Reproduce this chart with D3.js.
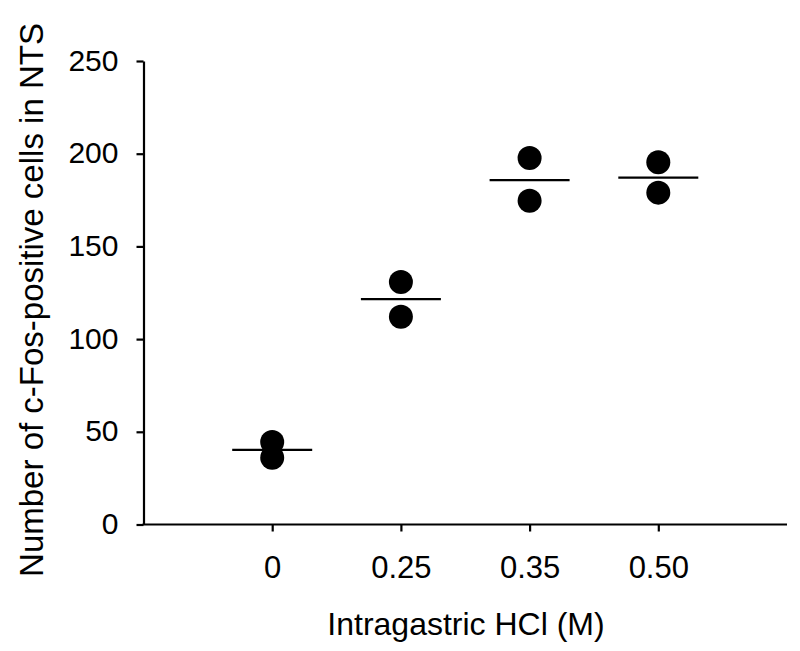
<!DOCTYPE html>
<html>
<head>
<meta charset="utf-8">
<script src="https://cdn.jsdelivr.net/npm/d3@7"></script>
<style>
  html, body { margin: 0; padding: 0; background: #fff; }
  svg { display: block; font-family: "Liberation Sans", Arial, sans-serif; }
</style>
</head>
<body>
<svg id="chart" width="800" height="651"></svg>
<script>
// ---- data ----
const categories = ["0", "0.25", "0.35", "0.50"];
const pointsA = [44.5, 130.8, 197.7, 195.4];   // upper animal per group
const pointsB = [36.0, 112.1, 174.6, 179.0];   // lower animal per group
const means   = [40.3, 121.6, 185.7, 187.1];   // horizontal mean bars
const yTicks  = [0, 50, 100, 150, 200, 250];
const xTitle  = "Intragastric HCl (M)";
const yTitle  = "Number of c-Fos-positive cells in NTS";

// ---- layout ----
const svg = d3.select("#chart");
const x0 = 143.5, x1 = 787, yTop = 61, yBot = 524.5;

const x = d3.scalePoint().domain(categories).range([x0, x1]).padding(1);
const y = d3.scaleLinear().domain([0, 250]).range([yBot, yTop]);

// y axis
const yAxis = svg.append("g")
  .attr("transform", `translate(${x0},0)`)
  .call(d3.axisLeft(y).tickValues(yTicks).tickSize(7).tickSizeOuter(0).tickPadding(18));
yAxis.select(".domain").attr("stroke", "#000").attr("stroke-width", 2.2);
yAxis.selectAll(".tick line").attr("stroke", "#000").attr("stroke-width", 2.2);
yAxis.selectAll(".tick text")
  .attr("font-size", 30).attr("fill", "#000")
  .attr("font-family", "Liberation Sans, Arial, sans-serif")
  .attr("dy", "0.30em");

// x axis
const xAxis = svg.append("g")
  .attr("transform", `translate(0,${yBot})`)
  .call(d3.axisBottom(x).tickSize(7).tickSizeOuter(0).tickPadding(24));
xAxis.select(".domain").attr("stroke", "#000").attr("stroke-width", 2.2)
  .attr("d", `M${x0 - 1},0H${x1}`);
xAxis.selectAll(".tick line").attr("stroke", "#000").attr("stroke-width", 2.2);
xAxis.selectAll(".tick text")
  .attr("font-size", 31).attr("fill", "#000")
  .attr("font-family", "Liberation Sans, Arial, sans-serif");

// mean bars
svg.append("g").selectAll("line")
  .data(categories.map((c, i) => ({c, m: means[i]})))
  .join("line")
  .attr("x1", d => x(d.c) - 40)
  .attr("x2", d => x(d.c) + 40)
  .attr("y1", d => y(d.m))
  .attr("y2", d => y(d.m))
  .attr("stroke", "#000")
  .attr("stroke-width", 2.2);

// points
const pts = [];
categories.forEach((c, i) => { pts.push({c, v: pointsA[i]}); pts.push({c, v: pointsB[i]}); });
svg.append("g").selectAll("circle")
  .data(pts)
  .join("circle")
  .attr("cx", d => x(d.c))
  .attr("cy", d => y(d.v))
  .attr("r", 12)
  .attr("fill", "#000");

// titles
svg.append("text")
  .attr("x", 466).attr("y", 635)
  .attr("text-anchor", "middle")
  .attr("font-size", 32).attr("fill", "#000")
  .text(xTitle);

svg.append("text")
  .attr("transform", "translate(43,300) rotate(-90)")
  .attr("text-anchor", "middle")
  .attr("font-size", 33).attr("fill", "#000")
  .text(yTitle);
</script>
</body>
</html>
